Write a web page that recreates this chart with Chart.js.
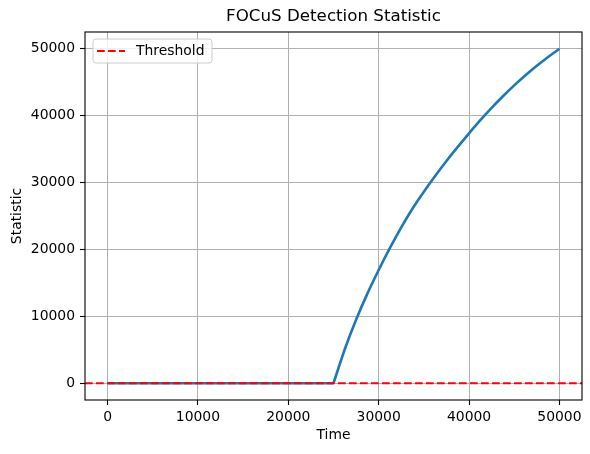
<!DOCTYPE html>
<html>
<head>
<meta charset="utf-8">
<script src="https://cdn.jsdelivr.net/npm/chart.js@4/dist/chart.umd.min.js"></script>
<style>
  body { margin: 0; background: #fff; }
  #chart { display: block; }
</style>
</head>
<body>
<canvas id="chart" width="590" height="454"></canvas>
<script>
// values
const timePoints = [0, 25000, 26250, 27500, 28750, 30000, 31250, 32500, 33750, 35000, 36250,
  37500, 38750, 40000, 41250, 42500, 43750, 45000, 46250, 47500, 48750, 50000];
const statValues = [0, 0, 5085, 9490, 13400, 16930, 20220, 23290, 26120, 28630, 30980,
  33220, 35330, 37360, 39320, 41170, 42900, 44520, 46030, 47440, 48760, 50000];
const thresholdValue = [0];
const xTicks = [0, 10000, 20000, 30000, 40000, 50000];
const yTicks = [0, 10000, 20000, 30000, 40000, 50000];
const xLimits = [-2500, 52500];
const yLimits = [-2500, 52500];

const FONT = "'DejaVu Sans', sans-serif";
const TICK_PX = 13.9;

const statData = timePoints.map((t, i) => ({ x: t, y: statValues[i] }));
// the statistic stays flat until the change, then climbs; drawn as two pieces
// so the corner at the change point stays sharp
const changeIdx = statValues.findIndex((v, i) => i > 0 && v > 0) - 1;
const flatPart = statData.slice(0, changeIdx + 1);
const risePart = statData.slice(changeIdx);
const thresholdData = xLimits.map((x) => ({ x, y: thresholdValue[0] }));

const frame = {
  id: "frame",
  afterDraw(chart) {
    const { ctx, chartArea: a } = chart;
    ctx.save();
    ctx.strokeStyle = "#000";
    ctx.lineWidth = 1.1;
    ctx.strokeRect(a.left, a.top, a.right - a.left, a.bottom - a.top);

    ctx.fillStyle = "#000";
    ctx.textAlign = "center";
    ctx.textBaseline = "middle";
    ctx.font = `16.7px ${FONT}`;
    ctx.fillText("FOCuS Detection Statistic", (a.left + a.right) / 2, 17);
    ctx.font = `${TICK_PX}px ${FONT}`;
    ctx.fillText("Time", (a.left + a.right) / 2, 435);
    ctx.save();
    ctx.translate(17, (a.top + a.bottom) / 2);
    ctx.rotate(-Math.PI / 2);
    ctx.fillText("Statistic", 0, 0);
    ctx.restore();

    // legend box inside the axes
    const ds = chart.data.datasets[0];
    const bx = a.left + 8, by = a.top + 7, bw = 119, bh = 24;
    ctx.globalAlpha = 0.8;
    ctx.fillStyle = "#fff";
    ctx.beginPath();
    ctx.roundRect(bx, by, bw, bh, 3);
    ctx.fill();
    ctx.globalAlpha = 1;
    ctx.strokeStyle = "#cccccc";
    ctx.lineWidth = 1;
    ctx.stroke();
    ctx.strokeStyle = ds.borderColor;
    ctx.lineWidth = ds.borderWidth;
    ctx.setLineDash(ds.borderDash);
    ctx.beginPath();
    ctx.moveTo(bx + 4, by + bh / 2);
    ctx.lineTo(bx + 32, by + bh / 2);
    ctx.stroke();
    ctx.setLineDash([]);
    ctx.fillStyle = "#000";
    ctx.textAlign = "left";
    ctx.fillText(ds.label, bx + 43, by + bh / 2 + 0.5);
    ctx.restore();
  },
};

const statStyle = {
  borderColor: "#1f77b4",
  borderWidth: 2.6,
  pointRadius: 0,
  borderJoinStyle: "round",
  order: 1,
};

new Chart(document.getElementById("chart"), {
  type: "line",
  data: {
    datasets: [
      {
        label: "Threshold",
        data: thresholdData,
        borderColor: "#ff0000",
        borderWidth: 2,
        borderDash: [7.7, 3.3],
        pointRadius: 0,
        order: 0,
      },
      { ...statStyle, label: "", data: flatPart, tension: 0 },
      { ...statStyle, label: "", data: risePart, cubicInterpolationMode: "monotone" },
    ],
  },
  options: {
    responsive: false,
    animation: false,
    devicePixelRatio: 1,
    layout: { padding: { top: 32, right: 8, left: 0, bottom: 0 } },
    plugins: { legend: { display: false }, tooltip: { enabled: false }, title: { display: false } },
    scales: {
      x: {
        type: "linear",
        min: xLimits[0],
        max: xLimits[1],
        afterBuildTicks: (s) => { s.ticks = xTicks.map((v) => ({ value: v })); },
        afterFit: (s) => { s.height = 54; },
        ticks: {
          color: "#000",
          font: { family: FONT, size: TICK_PX },
          padding: 4,
          maxRotation: 0,
          callback: (v) => String(v),
        },
        grid: { color: "#b0b0b0", lineWidth: 1, tickColor: "#000", tickLength: 5, tickWidth: 1.1 },
        border: { display: false },
      },
      y: {
        type: "linear",
        min: yLimits[0],
        max: yLimits[1],
        afterBuildTicks: (s) => { s.ticks = yTicks.map((v) => ({ value: v })); },
        afterFit: (s) => { s.width = 85; },
        ticks: {
          color: "#000",
          font: { family: FONT, size: TICK_PX },
          padding: 5,
          callback: (v) => String(v),
        },
        grid: { color: "#b0b0b0", lineWidth: 1, tickColor: "#000", tickLength: 5, tickWidth: 1.1 },
        border: { display: false },
      },
    },
  },
  plugins: [frame],
});
</script>
</body>
</html>
